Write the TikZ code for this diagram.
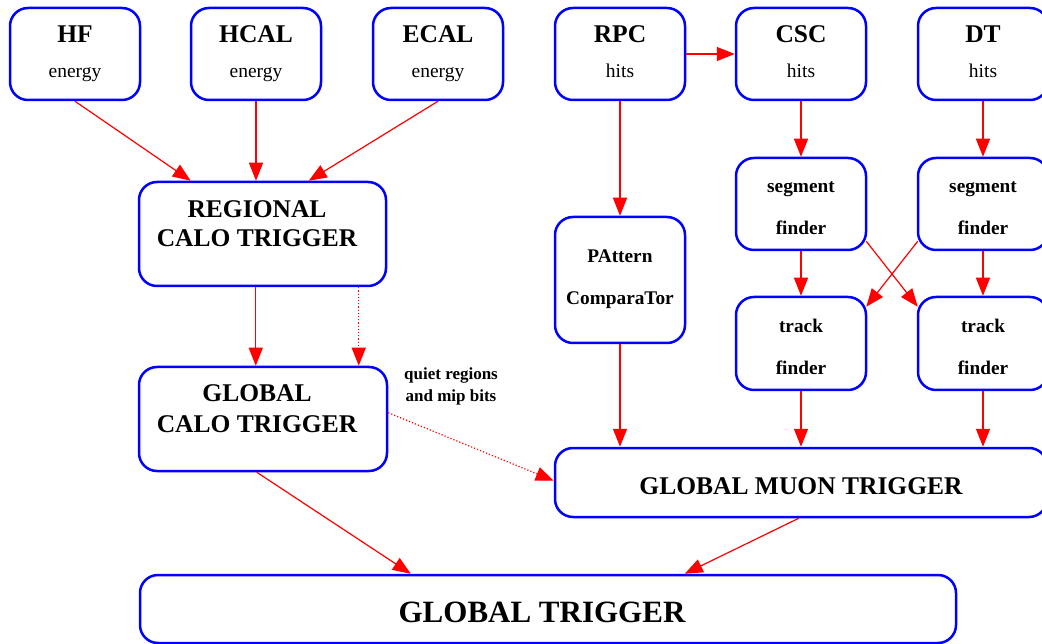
\documentclass[tikz,border=0pt]{standalone}
\usepackage{fontspec}
\setmainfont{Liberation Serif}
\usetikzlibrary{arrows.meta,calc}
\definecolor{bblue}{RGB}{0,0,255}
\definecolor{rred}{RGB}{255,0,0}
\newcommand{\fbig}{\fontsize{25.5}{28}\selectfont\bfseries}
\newcommand{\fsub}{\fontsize{19.5}{22}\selectfont}
\newcommand{\fmid}{\fontsize{19.3}{22}\selectfont\bfseries}
\newcommand{\fgt}{\fontsize{31}{34}\selectfont\bfseries}
\newcommand{\fsmall}{\fontsize{17}{20}\selectfont\bfseries}
\begin{document}
\begin{tikzpicture}[x=1pt,y=-1pt,
  box/.style={draw=bblue,line width=2.5pt,rounded corners=18pt,inner sep=0pt,fill=white},
  conn/.style={draw=rred,line width=1.2pt,-{Triangle[length=18pt,width=14pt]}},
  dconn/.style={conn,dotted},
  txt/.style={anchor=base,inner sep=0pt}]
\useasboundingbox (0,0) rectangle (1042,644);
\clip (0,0) rectangle (1042,644);
% boxes
\node[box,minimum width=130pt,minimum height=92pt] (hf) at (75,54) {};
\node[box,minimum width=130pt,minimum height=92pt] (hcal) at (256,54) {};
\node[box,minimum width=130pt,minimum height=92pt] (ecal) at (438,54) {};
\node[box,minimum width=130pt,minimum height=92pt] (rpc) at (620,54) {};
\node[box,minimum width=130pt,minimum height=92pt] (csc) at (801,54) {};
\node[box,minimum width=130pt,minimum height=92pt] (dt) at (983,54) {};
\node[box,minimum width=247pt,minimum height=104pt] (rct) at (262.5,234) {};
\node[box,minimum width=248pt,minimum height=104pt] (gct) at (263,419) {};
\node[box,minimum width=130pt,minimum height=126pt] (pact) at (620,280) {};
\node[box,minimum width=130pt,minimum height=92pt] (segc) at (801,204) {};
\node[box,minimum width=130pt,minimum height=92pt] (segd) at (983,204) {};
\node[box,minimum width=130pt,minimum height=93pt] (trkc) at (801,343.5) {};
\node[box,minimum width=130pt,minimum height=93pt] (trkd) at (983,343.5) {};
\node[box,minimum width=492pt,minimum height=69pt] (gmt) at (801,482.5) {};
\node[box,minimum width=816pt,minimum height=68pt] (gt) at (548,609) {};
% texts
\node[txt] (thf) at (75,43) {\fbig HF};
\node[txt] (shf) at (75,78) {\fsub energy};
\node[txt] (thcal) at (256,43) {\fbig HCAL};
\node[txt] (shcal) at (256,78) {\fsub energy};
\node[txt] (tecal) at (438,43) {\fbig ECAL};
\node[txt] (secal) at (438,78) {\fsub energy};
\node[txt] (trpc) at (620,43) {\fbig RPC};
\node[txt] (srpc) at (620,78) {\fsub hits};
\node[txt] (tcsc) at (801,43) {\fbig CSC};
\node[txt] (scsc) at (801,78) {\fsub hits};
\node[txt] (tdt) at (983,43) {\fbig DT};
\node[txt] (sdt) at (983,78) {\fsub hits};
\node[txt] (trct1) at (257,218) {\fbig REGIONAL};
\node[txt] (trct2) at (257,247) {\fbig CALO TRIGGER};
\node[txt] (tgct1) at (257,402) {\fbig GLOBAL};
\node[txt] (tgct2) at (257,432) {\fbig CALO TRIGGER};
\node[txt] (tpac1) at (620,263) {\fmid PAttern};
\node[txt] (tpac2) at (620,305) {\fmid ComparaTor};
\node[txt] (tsegc1) at (801,193) {\fmid segment};
\node[txt] (tsegc2) at (801,235) {\fmid finder};
\node[txt] (tsegd1) at (983,193) {\fmid segment};
\node[txt] (tsegd2) at (983,235) {\fmid finder};
\node[txt] (ttrkc1) at (801,333) {\fmid track};
\node[txt] (ttrkc2) at (801,374) {\fmid finder};
\node[txt] (ttrkd1) at (983,333) {\fmid track};
\node[txt] (ttrkd2) at (983,374) {\fmid finder};
\node[txt] (tgmt) at (801,494) {\fbig GLOBAL MUON TRIGGER};
\node[txt] (tgt) at (542,622) {\fgt GLOBAL TRIGGER};
\node[txt] (lq1) at (451,380) {\fsmall quiet regions};
\node[txt] (lq2) at (451,402) {\fsmall and mip bits};
% connectors
\draw[conn] (hf.south) -- ($(rct.north west)+(53,0)$);
\draw[conn] (hcal.south) -- (hcal.south |- rct.north);
\draw[conn] (ecal.south) -- ($(rct.north west)+(171,0)$);
\draw[conn] ($(rct.south west)+(118,0)$) -- ($(gct.north west)+(118,0)$);
\draw[dconn] ($(rct.south west)+(221,0)$) -- ($(gct.north west)+(221,0)$);
\draw[dconn] ($(gct.north east)+(0,47)$) -- ($(gmt.north west)+(0,34)$);
\draw[conn] ($(gct.south west)+(119,0)$) -- ($(gt.north west)+(272,0)$);
\draw[conn] ($(gmt.south west)+(245,0)$) -- ($(gt.north west)+(546,0)$);
\draw[conn] (rpc.east) -- (csc.west);
\draw[conn] (rpc.south) -- (pact.north);
\draw[conn] (csc.south) -- (segc.north);
\draw[conn] (dt.south) -- (segd.north);
\draw[conn] (segc.south) -- (trkc.north);
\draw[conn] (segd.south) -- (trkd.north);
\draw[conn] ($(segc.south east)+(-1,-10)$) -- ($(trkd.north west)+(1,11)$);
\draw[conn] ($(segd.south west)+(1,-10)$) -- ($(trkc.north east)+(-1,11)$);
\draw[conn] (pact.south) -- (pact.south |- gmt.north);
\draw[conn] (trkc.south) -- (trkc.south |- gmt.north);
\draw[conn] (trkd.south) -- (trkd.south |- gmt.north);
\end{tikzpicture}
\end{document}
